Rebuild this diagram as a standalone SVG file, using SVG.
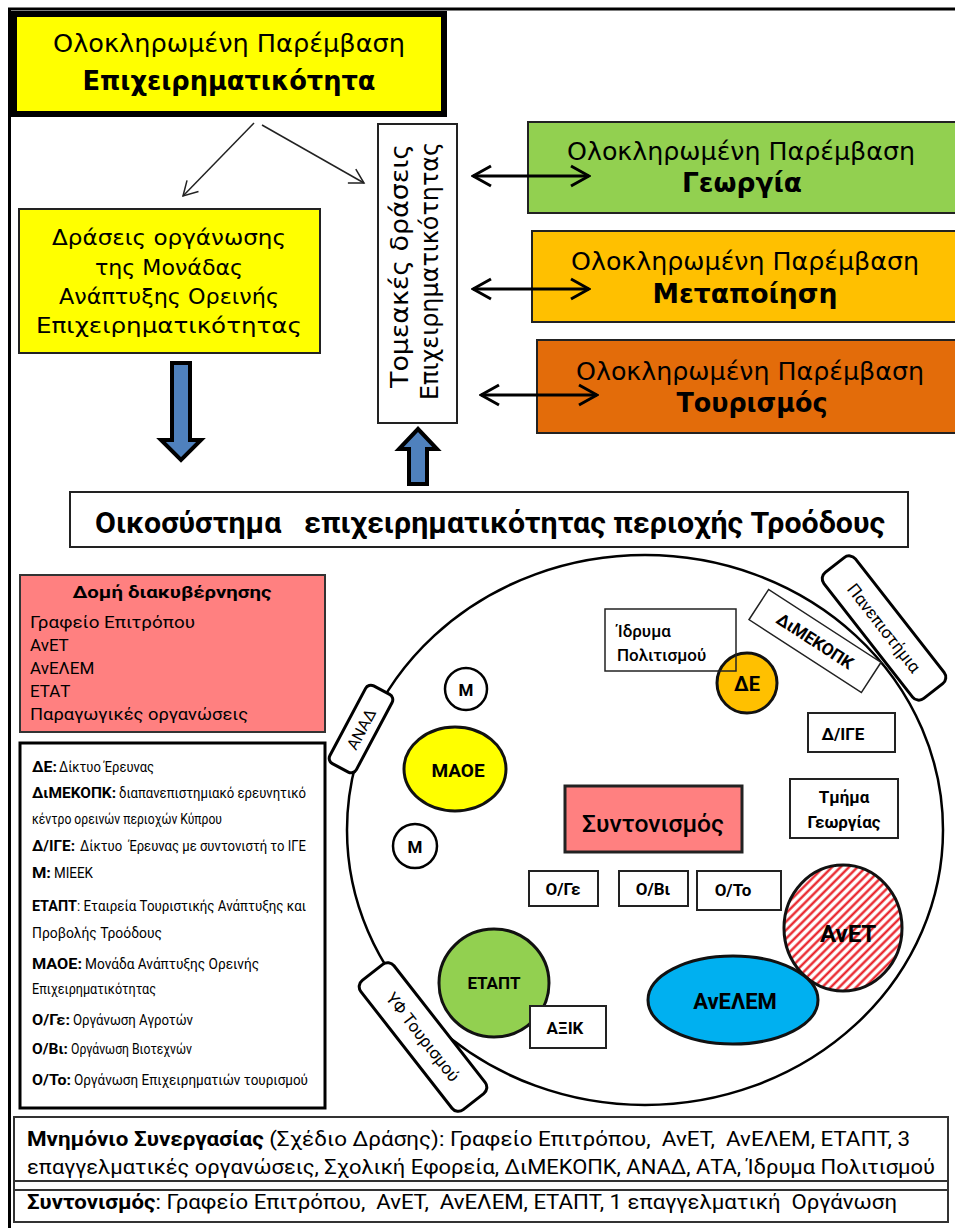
<svg xmlns="http://www.w3.org/2000/svg" width="955" height="1228" viewBox="0 0 955 1228">
<style>
.v{font-family:"DejaVu Sans",Verdana,sans-serif;fill:#000}
.c{font-family:Roboto,"Open Sans","Noto Sans",sans-serif;fill:#000}
.b{font-weight:bold}
.box{fill:#fff;stroke:#222;stroke-width:2}
.lg{font-family:Roboto,"Open Sans","Noto Sans",sans-serif;font-size:14.5px;fill:#000}
.lgb{font-family:Roboto,"Open Sans","Noto Sans",sans-serif;font-size:14.5px;font-weight:bold;fill:#000}
</style>
<defs>
<marker id="open" markerUnits="userSpaceOnUse" markerWidth="22" markerHeight="24" viewBox="0 0 22 24" refX="20" refY="12" orient="auto-start-reverse">
<path d="M2,2 L20,12 L2,22" fill="none" stroke="#000" stroke-width="3"/>
</marker>
<marker id="thinhead" markerUnits="userSpaceOnUse" markerWidth="18" markerHeight="20" viewBox="0 0 18 20" refX="16" refY="10" orient="auto">
<path d="M2,2 L16,10 L2,18" fill="none" stroke="#222" stroke-width="1.5"/>
</marker>
<pattern id="hatch" patternUnits="userSpaceOnUse" width="6" height="6" patternTransform="rotate(45)">
<rect width="6" height="6" fill="#fff"/>
<line x1="1.5" y1="0" x2="1.5" y2="6" stroke="#e8141c" stroke-width="2.2"/>
</pattern>
</defs>
<rect width="955" height="1228" fill="#fff"/>
<!-- outer frame -->
<line x1="8" y1="9" x2="955" y2="9" stroke="#000" stroke-width="3"/>
<line x1="9.5" y1="8" x2="9.5" y2="1228" stroke="#000" stroke-width="3"/>

<g id="top-box">
<rect x="14" y="14" width="430" height="100" fill="#ffff00" stroke="#000" stroke-width="6"/>
<text class="v" x="229" y="52" font-size="25" text-anchor="middle" textLength="352" lengthAdjust="spacingAndGlyphs">Ολοκληρωμένη Παρέμβαση</text>
<text class="v b" x="229" y="90" font-size="26" text-anchor="middle" textLength="293" lengthAdjust="spacingAndGlyphs">Επιχειρηματικότητα</text>
</g>

<g id="draseis-box">
<rect x="19" y="209" width="301" height="144" fill="#ffff00" stroke="#222" stroke-width="2"/>
<text class="v" x="169" y="245" font-size="22" text-anchor="middle" textLength="234" lengthAdjust="spacingAndGlyphs">Δράσεις οργάνωσης</text>
<text class="v" x="169" y="275" font-size="22" text-anchor="middle" textLength="148" lengthAdjust="spacingAndGlyphs">της Μονάδας</text>
<text class="v" x="169" y="304" font-size="22" text-anchor="middle" textLength="220" lengthAdjust="spacingAndGlyphs">Ανάπτυξης Ορεινής</text>
<text class="v" x="169" y="333" font-size="22" text-anchor="middle" textLength="266" lengthAdjust="spacingAndGlyphs">Επιχειρηματικότητας</text>
</g>

<g id="tomeakes-box">
<rect x="378" y="124" width="79" height="299" class="box"/>
<text class="v" transform="translate(408,266) rotate(-90)" font-size="24" text-anchor="middle" textLength="244" lengthAdjust="spacingAndGlyphs">Τομεακές δράσεις</text>
<text class="v" transform="translate(438,271) rotate(-90)" font-size="24" text-anchor="middle" textLength="258" lengthAdjust="spacingAndGlyphs">Επιχειρηματικότητας</text>
</g>

<g id="georgia-box">
<rect x="528" y="122" width="430" height="91" fill="#92d050" stroke="#222" stroke-width="2"/>
<text class="v" x="741" y="160" font-size="24" text-anchor="middle" textLength="348" lengthAdjust="spacingAndGlyphs">Ολοκληρωμένη Παρέμβαση</text>
<text class="v b" x="742" y="192" font-size="26" text-anchor="middle" textLength="120" lengthAdjust="spacingAndGlyphs">Γεωργία</text>
</g>

<g id="metapoiisi-box">
<rect x="532" y="231" width="430" height="91" fill="#ffc000" stroke="#222" stroke-width="2"/>
<text class="v" x="745" y="270" font-size="24" text-anchor="middle" textLength="348" lengthAdjust="spacingAndGlyphs">Ολοκληρωμένη Παρέμβαση</text>
<text class="v b" x="745" y="303" font-size="26" text-anchor="middle" textLength="185" lengthAdjust="spacingAndGlyphs">Μεταποίηση</text>
</g>

<g id="tourismos-box">
<rect x="537" y="340" width="430" height="93" fill="#e36c0a" stroke="#222" stroke-width="2"/>
<text class="v" x="750" y="380" font-size="24" text-anchor="middle" textLength="348" lengthAdjust="spacingAndGlyphs">Ολοκληρωμένη Παρέμβαση</text>
<text class="v b" x="752" y="412" font-size="26" text-anchor="middle" textLength="151" lengthAdjust="spacingAndGlyphs">Τουρισμός</text>
</g>

<g id="connectors">
<line x1="254" y1="123" x2="183" y2="196" stroke="#222" stroke-width="1.5" marker-end="url(#thinhead)"/>
<line x1="262" y1="125" x2="364" y2="183" stroke="#222" stroke-width="1.5" marker-end="url(#thinhead)"/>
<line x1="473" y1="176" x2="589" y2="176" stroke="#000" stroke-width="3" marker-start="url(#open)" marker-end="url(#open)"/>
<line x1="473" y1="289" x2="589" y2="289" stroke="#000" stroke-width="3" marker-start="url(#open)" marker-end="url(#open)"/>
<line x1="481" y1="395" x2="597" y2="395" stroke="#000" stroke-width="3" marker-start="url(#open)" marker-end="url(#open)"/>
<polygon points="172,363 190,363 190,440 201,440 181,460 161,440 172,440" fill="#4f81bd" stroke="#000" stroke-width="4" stroke-linejoin="miter"/>
<polygon points="418,429 437,449 427,449 427,484 409,484 409,449 399,449" fill="#4f81bd" stroke="#000" stroke-width="4" stroke-linejoin="miter"/>
</g>

<g id="ecosystem-banner">
<rect x="70" y="492" width="838" height="55" class="box"/>
<text class="c b" x="490" y="533" font-size="29" text-anchor="middle" textLength="790" lengthAdjust="spacingAndGlyphs" xml:space="preserve">Οικοσύστημα   επιχειρηματικότητας περιοχής Τροόδους</text>
</g>

<g id="governance-box">
<rect x="20" y="575" width="305" height="157" fill="#ff8080" stroke="#333" stroke-width="2"/>
<text class="c b" x="172" y="598" font-size="17" text-anchor="middle" textLength="199" lengthAdjust="spacingAndGlyphs">Δομή διακυβέρνησης</text>
<text class="c" x="30" y="628" font-size="17" textLength="165" lengthAdjust="spacingAndGlyphs">Γραφείο Επιτρόπου</text>
<text class="c" x="30" y="651" font-size="17">ΑνΕΤ</text>
<text class="c" x="30" y="674" font-size="17">ΑνΕΛΕΜ</text>
<text class="c" x="30" y="697" font-size="17">ΕΤΑΤ</text>
<text class="c" x="30" y="720" font-size="17" textLength="218" lengthAdjust="spacingAndGlyphs">Παραγωγικές οργανώσεις</text>
</g>

<g id="legend-box">
<rect x="20" y="743" width="305" height="365" fill="#fff" stroke="#000" stroke-width="3"/>
<text class="lgb" x="32" y="772" textLength="25" lengthAdjust="spacingAndGlyphs">ΔΕ:</text>
<text class="lg" x="59" y="772" textLength="95" lengthAdjust="spacingAndGlyphs">Δίκτυο Έρευνας</text>
<text class="lgb" x="32" y="798" textLength="84" lengthAdjust="spacingAndGlyphs">ΔιΜΕΚΟΠΚ:</text>
<text class="lg" x="119" y="798" textLength="187" lengthAdjust="spacingAndGlyphs">διαπανεπιστημιακό ερευνητικό</text>
<text class="lg" x="32" y="824" textLength="190" lengthAdjust="spacingAndGlyphs">κέντρο ορεινών περιοχών Κύπρου</text>
<text class="lgb" x="32" y="851" textLength="43" lengthAdjust="spacingAndGlyphs">Δ/ΙΓΕ:</text>
<text class="lg" x="80" y="851" textLength="226" lengthAdjust="spacingAndGlyphs" xml:space="preserve">Δίκτυο  Έρευνας με συντονιστή το ΙΓΕ</text>
<text class="lgb" x="32" y="878" textLength="19" lengthAdjust="spacingAndGlyphs">Μ:</text>
<text class="lg" x="54" y="878" textLength="39" lengthAdjust="spacingAndGlyphs">ΜΙΕΕΚ</text>
<text class="lgb" x="32" y="911" textLength="45" lengthAdjust="spacingAndGlyphs">ΕΤΑΠΤ</text>
<text class="lg" x="77" y="911" textLength="229" lengthAdjust="spacingAndGlyphs">: Εταιρεία Τουριστικής Ανάπτυξης και</text>
<text class="lg" x="32" y="938" textLength="130" lengthAdjust="spacingAndGlyphs">Προβολής Τροόδους</text>
<text class="lgb" x="32" y="969" textLength="50" lengthAdjust="spacingAndGlyphs">ΜΑΟΕ:</text>
<text class="lg" x="85" y="969" textLength="174" lengthAdjust="spacingAndGlyphs">Μονάδα Ανάπτυξης Ορεινής</text>
<text class="lg" x="32" y="994" textLength="124" lengthAdjust="spacingAndGlyphs">Επιχειρηματικότητας</text>
<text class="lgb" x="32" y="1025" textLength="38" lengthAdjust="spacingAndGlyphs">Ο/Γε:</text>
<text class="lg" x="73" y="1025" textLength="120" lengthAdjust="spacingAndGlyphs">Οργάνωση Αγροτών</text>
<text class="lgb" x="32" y="1054" textLength="36" lengthAdjust="spacingAndGlyphs">Ο/Βι:</text>
<text class="lg" x="71" y="1054" textLength="121" lengthAdjust="spacingAndGlyphs">Οργάνωση Βιοτεχνών</text>
<text class="lgb" x="32" y="1085" textLength="39" lengthAdjust="spacingAndGlyphs">Ο/Το:</text>
<text class="lg" x="74" y="1085" textLength="234" lengthAdjust="spacingAndGlyphs">Οργάνωση Επιχειρηματιών τουρισμού</text>
</g>

<g id="ecosystem-circle">
<ellipse cx="645" cy="830" rx="298" ry="275" fill="#fff" stroke="#000" stroke-width="2.5"/>
</g>

<g id="panepistimia">
<g transform="translate(884,628) rotate(52)">
<rect x="-80" y="-20" width="160" height="40" rx="8" fill="#fff" stroke="#000" stroke-width="3"/>
<text class="c" x="0" y="6" font-size="17" text-anchor="middle">Πανεπιστήμια</text>
</g>
</g>

<g id="dimekopk">
<g transform="translate(815,641) rotate(33)">
<rect x="-67" y="-18" width="134" height="36" fill="#fff" stroke="#222" stroke-width="1.5"/>
<text class="c b" x="0" y="6" font-size="17" text-anchor="middle">ΔιΜΕΚΟΠΚ</text>
</g>
</g>

<g id="de">
<circle cx="747" cy="683" r="30" fill="#ffc000" stroke="#111" stroke-width="3"/>
<text class="c b" x="747" y="691" font-size="20" text-anchor="middle">ΔΕ</text>
</g>

<g id="idryma">
<rect x="605" y="609" width="131" height="62" fill="none" stroke="#222" stroke-width="1.5"/>
<text class="c" x="617" y="637" font-size="17" font-weight="500">Ίδρυμα</text>
<text class="c" x="617" y="661" font-size="17" font-weight="500">Πολιτισμού</text>
</g>

<g id="dige">
<rect x="808" y="713" width="87" height="39" class="box"/>
<text class="c b" x="843" y="740" font-size="17" text-anchor="middle">Δ/ΙΓΕ</text>
</g>

<g id="tmima-georgias">
<rect x="790" y="779" width="108" height="59" class="box"/>
<text class="c b" x="844" y="803" font-size="17" text-anchor="middle">Τμήμα</text>
<text class="c b" x="844" y="828" font-size="17" text-anchor="middle">Γεωργίας</text>
</g>

<g id="anad">
<g transform="translate(361,729) rotate(-62)">
<rect x="-44" y="-15" width="88" height="30" rx="6" fill="#fff" stroke="#000" stroke-width="3"/>
<text class="c" x="0" y="6" font-size="16" text-anchor="middle">ΑΝΑΔ</text>
</g>
</g>

<g id="m-top">
<circle cx="466" cy="689" r="21" fill="#fff" stroke="#000" stroke-width="2.5"/>
<text class="c b" x="466" y="696" font-size="17" text-anchor="middle">Μ</text>
</g>

<g id="maoe">
<ellipse cx="455" cy="769" rx="51" ry="42" fill="#ffff00" stroke="#111" stroke-width="3"/>
<text class="c b" x="458" y="777" font-size="19" text-anchor="middle">ΜΑΟΕ</text>
</g>

<g id="m-bottom">
<circle cx="415" cy="846" r="22" fill="#fff" stroke="#000" stroke-width="2.5"/>
<text class="c b" x="415" y="853" font-size="17" text-anchor="middle">Μ</text>
</g>

<g id="syntonismos">
<rect x="565" y="786" width="177" height="66" fill="#ff8080" stroke="#222" stroke-width="3"/>
<text class="c" x="653" y="832" font-size="24" font-weight="500" text-anchor="middle" textLength="142" lengthAdjust="spacingAndGlyphs">Συντονισμός</text>
</g>

<g id="o-ge">
<rect x="529" y="871" width="69" height="35" class="box"/>
<text class="c b" x="563" y="895" font-size="17" text-anchor="middle">Ο/Γε</text>
</g>
<g id="o-vi">
<rect x="619" y="871" width="69" height="35" class="box"/>
<text class="c b" x="653" y="895" font-size="17" text-anchor="middle">Ο/Βι</text>
</g>
<g id="o-to">
<rect x="697" y="871" width="84" height="39" class="box"/>
<text class="c b" x="733" y="896" font-size="17" text-anchor="middle">Ο/Το</text>
</g>

<g id="anet">
<ellipse cx="843" cy="928" rx="59" ry="63" fill="url(#hatch)" stroke="#111" stroke-width="3"/>
<text class="c b" x="848" y="942" font-size="24" text-anchor="middle">ΑνΕΤ</text>
</g>

<g id="anelem">
<ellipse cx="733" cy="1000" rx="85" ry="44" fill="#00b0f0" stroke="#111" stroke-width="3"/>
<text class="c b" x="735" y="1009" font-size="22" text-anchor="middle">ΑνΕΛΕΜ</text>
</g>

<g id="yf-tourismou">
<g transform="translate(423,1037) rotate(52)">
<rect x="-82" y="-21" width="164" height="42" rx="8" fill="#fff" stroke="#000" stroke-width="3"/>
<text class="c" x="0" y="6" font-size="17" text-anchor="middle">ΥΦ Τουρισμού</text>
</g>
</g>

<g id="etapt">
<ellipse cx="494" cy="983" rx="55" ry="54" fill="#92d050" stroke="#111" stroke-width="3"/>
<text class="c b" x="494" y="989" font-size="17" text-anchor="middle">ΕΤΑΠΤ</text>
</g>

<g id="aksik">
<rect x="530" y="1006" width="76" height="42" class="box"/>
<text class="c b" x="565" y="1034" font-size="17" text-anchor="middle">ΑΞΙΚ</text>
</g>

<g id="bottom-box">
<rect x="14" y="1117" width="934" height="105" fill="#fff" stroke="#333" stroke-width="2"/>
<line x1="14" y1="1181" x2="948" y2="1181" stroke="#333" stroke-width="2"/>
<line x1="14" y1="1190" x2="948" y2="1190" stroke="#333" stroke-width="2"/>
<text class="c" x="27" y="1146" font-size="21" textLength="883" lengthAdjust="spacingAndGlyphs" xml:space="preserve"><tspan font-weight="bold">Μνημόνιο Συνεργασίας</tspan> (Σχέδιο Δράσης): Γραφείο Επιτρόπου,  ΑνΕΤ,  ΑνΕΛΕΜ, ΕΤΑΠΤ, 3</text>
<text class="c" x="27" y="1174" font-size="21" textLength="908" lengthAdjust="spacingAndGlyphs">επαγγελματικές οργανώσεις, Σχολική Εφορεία, ΔιΜΕΚΟΠΚ, ΑΝΑΔ, ΑΤΑ, Ίδρυμα Πολιτισμού</text>
<text class="c" x="27" y="1209" font-size="21" textLength="870" lengthAdjust="spacingAndGlyphs" xml:space="preserve"><tspan font-weight="bold">Συντονισμός</tspan>: Γραφείο Επιτρόπου,  ΑνΕΤ,  ΑνΕΛΕΜ, ΕΤΑΠΤ, 1 επαγγελματική  Οργάνωση</text>
</g>
</svg>
